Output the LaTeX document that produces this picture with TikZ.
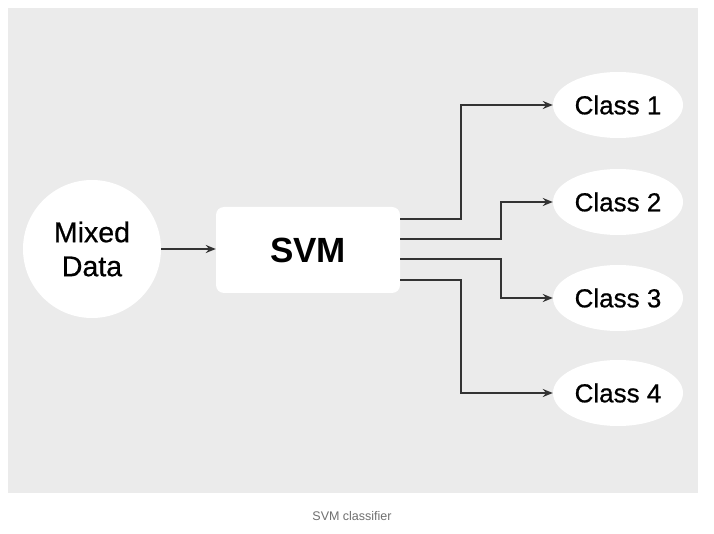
\documentclass[tikz,border=0pt]{standalone}
\usepackage{fontspec}
\setmainfont{Liberation Sans}
\newfontfamily\mediumfont{Liberation Sans}[FakeBold=0.7]
\usetikzlibrary{positioning, calc, shapes.geometric, arrows.meta}

\definecolor{panelgray}{HTML}{EBEBEB}
\definecolor{linegray}{HTML}{333333}
\definecolor{captiongray}{HTML}{707070}

\begin{document}
\begin{tikzpicture}[x=1pt, y=-1pt,
                link/.style={draw=linegray, line width=1.7pt, -{Stealth[length=10pt,width=8pt]}},
                classnode/.style={ellipse, fill=white, minimum width=130pt, minimum height=66pt, inner sep=0pt,
                                  font=\mediumfont\fontsize{26}{30}\selectfont}]
                \useasboundingbox (0,0) rectangle (714,534);
                \fill[white] (0,0) rectangle (714,534);
                \fill[panelgray] (8,8) rectangle (698,493);

                \node[circle, fill=white, minimum size=138pt, inner sep=0pt, align=center,
                      font=\mediumfont\fontsize{28.5}{34}\selectfont] (mixed) at (92,249) {Mixed\\Data};
                \node[fill=white, rounded corners=8pt, minimum width=184pt, minimum height=86pt,
                      font=\fontsize{35}{40}\selectfont\bfseries] (svm) at (308,250) {SVM};

                \node[classnode] (c1) at (618,105) {Class 1};
                \node[classnode] (c2) at (618,202) {Class 2};
                \node[classnode] (c3) at (618,298) {Class 3};
                \node[classnode] (c4) at (618,393) {Class 4};

                \draw[link] (mixed.east) -- (mixed.east -| svm.west);

                \draw[link] ($(svm.east)+(0,-31)$) -| ($(c1.west)+(-92,0)$) -- (c1.west);
                \draw[link] ($(svm.east)+(0,-11)$) -| ($(c2.west)+(-52,0)$) -- (c2.west);
                \draw[link] ($(svm.east)+(0,9)$)   -| ($(c3.west)+(-52,0)$) -- (c3.west);
                \draw[link] ($(svm.east)+(0,30)$)  -| ($(c4.west)+(-92,0)$) -- (c4.west);

                \node[text=captiongray, font=\fontsize{12.5}{15}\selectfont] (caption) at (352,516) {SVM classifier};
            \end{tikzpicture}
\end{document}
